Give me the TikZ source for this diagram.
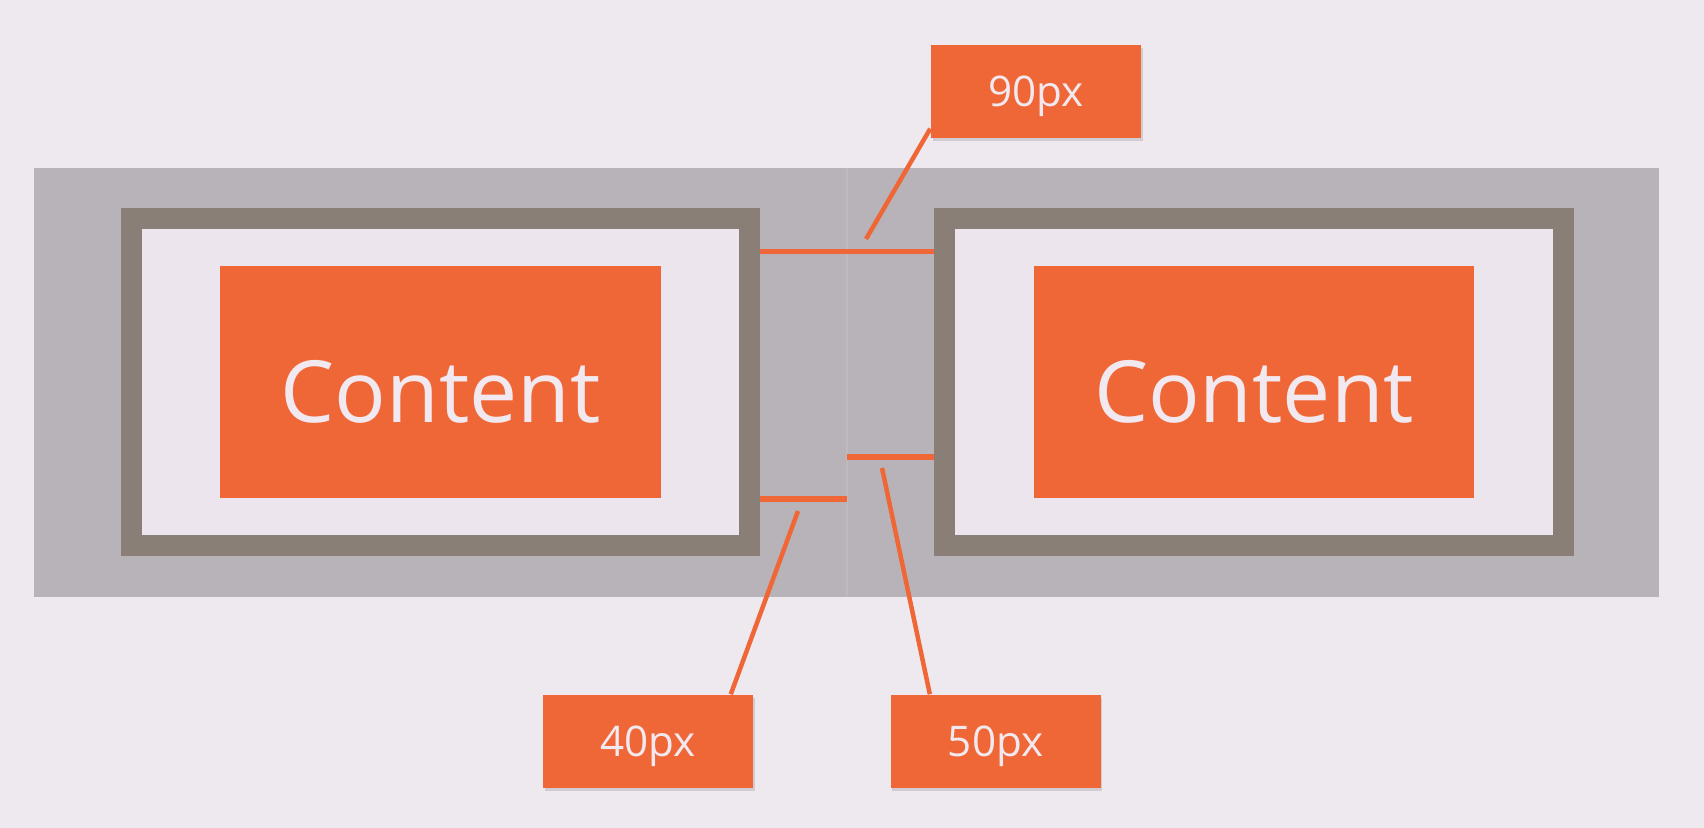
\documentclass[tikz,border=0pt]{standalone}
\usepackage{fontspec}
\setmainfont{Open Sans}
\usetikzlibrary{positioning, calc, shadows}

\definecolor{pagebg}{HTML}{EEE9EF}
\definecolor{panelgray}{HTML}{B8B3B9}
\definecolor{seamgray}{HTML}{BEB9BF}
\definecolor{framegray}{HTML}{8A7F77}
\definecolor{innerwhite}{HTML}{ECE5ED}
\definecolor{accent}{HTML}{F06737}
\definecolor{lighttext}{HTML}{F1E9EF}

\begin{document}
\begin{tikzpicture}[x=0.01cm, y=-0.01cm,
        frame/.style={draw=framegray, line width=0.21cm, fill=innerwhite,
            inner sep=0pt, outer sep=0.105cm,
            minimum width=6.185cm, minimum height=3.27cm},
        content/.style={fill=accent, text=lighttext, inner sep=0pt,
            minimum width=4.4cm, minimum height=2.32cm,
            text height=0.8cm, text depth=0pt,
            font=\fontsize{24.4}{30}\selectfont},
        tag/.style={fill=accent, text=lighttext, inner sep=0pt,
            minimum width=2.1cm, minimum height=0.93cm,
            text height=0.3cm, text depth=0pt,
            font=\fontsize{12}{14}\selectfont,
            drop shadow={shadow xshift=0.5pt, shadow yshift=-0.8pt,
                opacity=0.12, fill=black}},
        marker/.style={draw=accent, line width=0.05cm},
        leader/.style={draw=accent, line width=0.045cm},
        seam/.style={draw=seamgray, line width=0.4pt}]

        % page and panel
        \fill[pagebg] (0,0) rectangle (1704,828);
        \fill[panelgray] (34,168) rectangle (1659,597);
        \coordinate (seamTop) at (847,168);
        \coordinate (seamBot) at (847,597);
        \draw[seam] (seamTop) -- (seamBot);

        % the two boxes
        \node[frame] (frameL) at (440.5,382) {};
        \node[frame] (frameR) at (1254,382) {};
        \node[content] (contentL) at (frameL) {Content};
        \node[content] (contentR) at (frameR) {Content};

        % margin markers
        \coordinate (row90) at (847,252);
        \coordinate (row50) at (847,457);
        \coordinate (row40) at (847,499);
        \draw[marker] (frameL.east |- row90) -- (frameR.west |- row90);
        \draw[marker] (frameL.east |- row40) -- (row40);
        \draw[marker] (row50) -- (frameR.west |- row50);

        % labels
        \node[tag] (tag90) at (1036,91.5) {90px};
        \node[tag] (tag40) at (648,741.5) {40px};
        \node[tag, right=1.36cm of tag40] (tag50) {50px};

        \coordinate (tick90) at (866,239);
        \coordinate (tick40) at (798,511);
        \coordinate (tick50) at (882,468);
        \draw[leader] (tick90) -- ($(tag90.south west)+(0,-10)$);
        \draw[leader] (tick40) -- ($(tag40.north east)+(-23,0)$);
        \draw[leader] (tick50) -- ($(tag50.north west)+(40,0)$);
    \end{tikzpicture}
\end{document}
